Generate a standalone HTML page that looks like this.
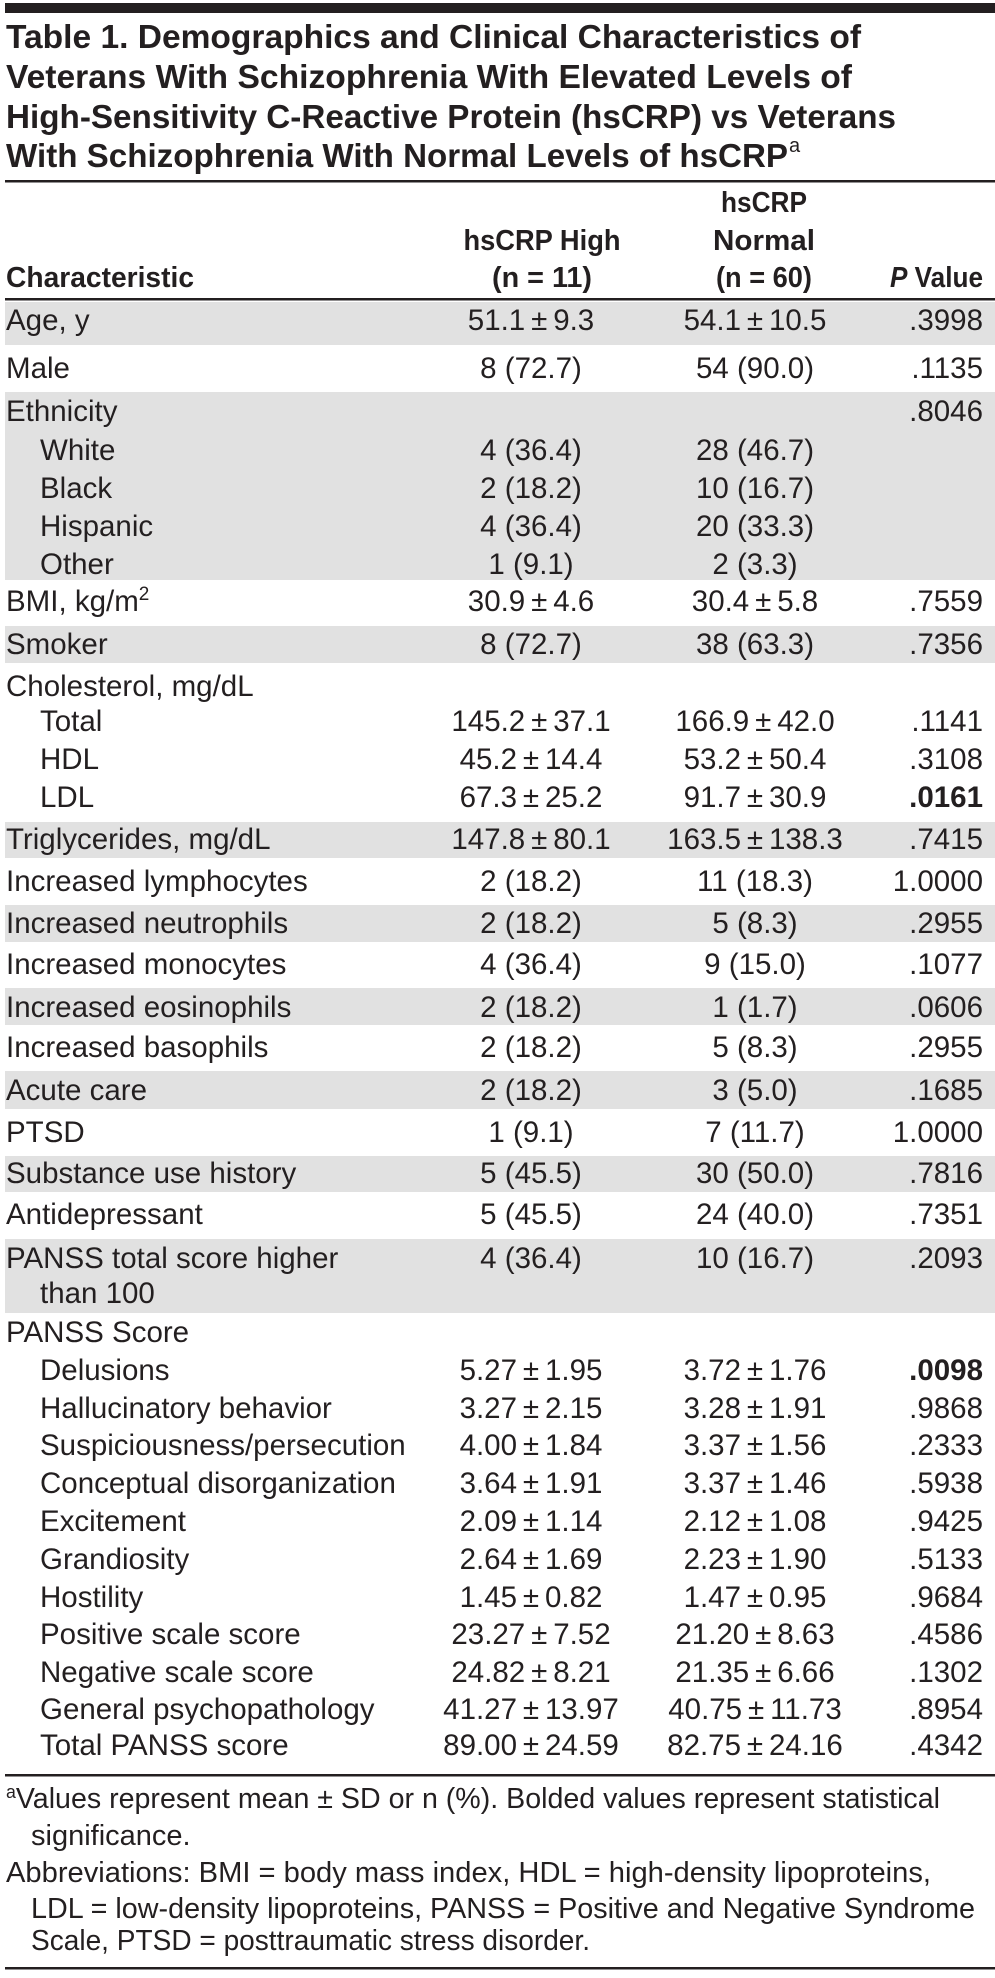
<!DOCTYPE html>
<html><head><meta charset="utf-8">
<style>
html,body{margin:0;padding:0;background:#fff;}
svg{display:block;}
text{font-family:"Liberation Sans",sans-serif;fill:#231f20;}
</style></head>
<body>
<svg id="tbl" width="995" height="1978" viewBox="0 0 995 1978" xmlns="http://www.w3.org/2000/svg">
  <rect x="5" y="3" width="990" height="10" fill="#231f20"/>
  <g font-weight="bold" font-size="33">
    <text x="6" y="48" textLength="855" lengthAdjust="spacingAndGlyphs">Table 1. Demographics and Clinical Characteristics of</text>
    <text x="6" y="88" textLength="846" lengthAdjust="spacingAndGlyphs">Veterans With Schizophrenia With Elevated Levels of</text>
    <text x="6" y="128" textLength="890" lengthAdjust="spacingAndGlyphs">High-Sensitivity C-Reactive Protein (hsCRP) vs Veterans</text>
    <text x="6" y="167" textLength="782" lengthAdjust="spacingAndGlyphs">With Schizophrenia With Normal Levels of hsCRP</text>
    <text x="789" y="152" font-size="20" font-weight="normal">a</text>
  </g>
  <rect x="5" y="180" width="990" height="2.5" fill="#231f20"/>
  <g font-weight="bold" font-size="29">
    <text x="6" y="287" textLength="188" lengthAdjust="spacingAndGlyphs">Characteristic</text>
    <text x="542" y="250" text-anchor="middle" textLength="157" lengthAdjust="spacingAndGlyphs">hsCRP High</text>
    <text x="542" y="287" text-anchor="middle" textLength="100" lengthAdjust="spacingAndGlyphs">(n = 11)</text>
    <text x="764" y="212" text-anchor="middle" textLength="86" lengthAdjust="spacingAndGlyphs">hsCRP</text>
    <text x="764" y="250" text-anchor="middle" textLength="102" lengthAdjust="spacingAndGlyphs">Normal</text>
    <text x="764" y="287" text-anchor="middle" textLength="96" lengthAdjust="spacingAndGlyphs">(n = 60)</text>
    <text x="983" y="287" text-anchor="end" textLength="93" lengthAdjust="spacingAndGlyphs"><tspan font-style="italic">P</tspan> Value</text>
  </g>
  <rect x="5" y="298" width="990" height="2.5" fill="#231f20"/>
  <g id="bands"></g>
  <g id="rows"></g>
  <rect x="5" y="1774" width="990" height="2.5" fill="#231f20"/>
  <g font-size="29">
    <text x="6" y="1808" textLength="934" lengthAdjust="spacingAndGlyphs"><tspan font-size="18" dy="-10">a</tspan><tspan dy="10">Values represent mean ± SD or n (%). Bolded values represent statistical</tspan></text>
    <text x="31" y="1845">significance.</text>
    <text x="6" y="1882" textLength="925" lengthAdjust="spacingAndGlyphs">Abbreviations: BMI = body mass index, HDL = high-density lipoproteins,</text>
    <text x="31" y="1918" textLength="944" lengthAdjust="spacingAndGlyphs">LDL = low-density lipoproteins, PANSS = Positive and Negative Syndrome</text>
    <text x="31" y="1950" textLength="559" lengthAdjust="spacingAndGlyphs">Scale, PTSD = posttraumatic stress disorder.</text>
  </g>
  <rect x="5" y="1967" width="990" height="2.5" fill="#231f20"/>
</svg>
<script>
const labels = ["Age, y","Male","Ethnicity","White","Black","Hispanic","Other","BMI, kg/m","Smoker","Cholesterol, mg/dL","Total","HDL","LDL","Triglycerides, mg/dL","Increased lymphocytes","Increased neutrophils","Increased monocytes","Increased eosinophils","Increased basophils","Acute care","PTSD","Substance use history","Antidepressant","PANSS total score higher","than 100","PANSS Score","Delusions","Hallucinatory behavior","Suspiciousness/persecution","Conceptual disorganization","Excitement","Grandiosity","Hostility","Positive scale score","Negative scale score","General psychopathology","Total PANSS score"];
const indents = [0,0,0,1,1,1,1,0,0,0,1,1,1,0,0,0,0,0,0,0,0,0,0,0,1,0,1,1,1,1,1,1,1,1,1,1,1];
const highVals = ["51.1 ± 9.3","8 (72.7)","","4 (36.4)","2 (18.2)","4 (36.4)","1 (9.1)","30.9 ± 4.6","8 (72.7)","","145.2 ± 37.1","45.2 ± 14.4","67.3 ± 25.2","147.8 ± 80.1","2 (18.2)","2 (18.2)","4 (36.4)","2 (18.2)","2 (18.2)","2 (18.2)","1 (9.1)","5 (45.5)","5 (45.5)","4 (36.4)","","","5.27 ± 1.95","3.27 ± 2.15","4.00 ± 1.84","3.64 ± 1.91","2.09 ± 1.14","2.64 ± 1.69","1.45 ± 0.82","23.27 ± 7.52","24.82 ± 8.21","41.27 ± 13.97","89.00 ± 24.59"];
const normalVals = ["54.1 ± 10.5","54 (90.0)","","28 (46.7)","10 (16.7)","20 (33.3)","2 (3.3)","30.4 ± 5.8","38 (63.3)","","166.9 ± 42.0","53.2 ± 50.4","91.7 ± 30.9","163.5 ± 138.3","11 (18.3)","5 (8.3)","9 (15.0)","1 (1.7)","5 (8.3)","3 (5.0)","7 (11.7)","30 (50.0)","24 (40.0)","10 (16.7)","","","3.72 ± 1.76","3.28 ± 1.91","3.37 ± 1.56","3.37 ± 1.46","2.12 ± 1.08","2.23 ± 1.90","1.47 ± 0.95","21.20 ± 8.63","21.35 ± 6.66","40.75 ± 11.73","82.75 ± 24.16"];
const pVals = [".3998",".1135",".8046","","","","",".7559",".7356","",".1141",".3108",".0161",".7415","1.0000",".2955",".1077",".0606",".2955",".1685","1.0000",".7816",".7351",".2093","","",".0098",".9868",".2333",".5938",".9425",".5133",".9684",".4586",".1302",".8954",".4342"];
const boldP = [".0161",".0098"];
// layout (pixel positions, not data)
const baselines = [330,378,421,460,498,536,574,611,654,696,731,769,807,849,891,933,974,1017,1057,1100,1142,1183,1224,1268,1303,1342,1380,1418,1455,1493,1531,1569,1607,1644,1682,1719,1755];
const bandTops = [302,392,626,822,905,988,1071,1156,1239];
const bandBottoms = [345,580,663,858,942,1025,1109,1192,1313];
const NS = "http://www.w3.org/2000/svg";
const bands = document.getElementById('bands');
bandTops.forEach((t,i)=>{
  const r = document.createElementNS(NS,'rect');
  
  
  r.setAttribute('x',5); r.setAttribute('y',t);
  r.setAttribute('width',990); r.setAttribute('height',bandBottoms[i]-t);
  r.setAttribute('fill','#e1e1e1');
  bands.appendChild(r);
});
const rowsG = document.getElementById('rows');
function fmt(s){ return s.replace(/ ± /g,'\u2009±\u2009'); }
function txt(x,y,s,anchor,bold){
  const t = document.createElementNS(NS,'text');
  t.setAttribute('x',x); t.setAttribute('y',y);
  t.setAttribute('font-size','29.5');
  if(anchor) t.setAttribute('text-anchor',anchor);
  if(bold) t.setAttribute('font-weight','bold');
  t.textContent = s;
  return t;
}
labels.forEach((lab,i)=>{
  const g = document.createElementNS(NS,'g');
  
  
  const y = baselines[i];
  const l = txt(indents[i]?40:6, y, lab);
  
  
  if(lab==="BMI, kg/m"){
    const sup = document.createElementNS(NS,'tspan');
    sup.setAttribute('font-size','19'); sup.setAttribute('dy','-11');
    sup.textContent='2';
    l.appendChild(sup);
  }
  g.appendChild(l);
  if(highVals[i]){
    const a = txt(531,y,fmt(highVals[i]),'middle');
    
    
    g.appendChild(a);
  }
  if(normalVals[i]){
    const b = txt(755,y,fmt(normalVals[i]),'middle');
    
    
    g.appendChild(b);
  }
  if(pVals[i]){
    const p = txt(983,y,pVals[i],'end',boldP.includes(pVals[i]));
    
    
    g.appendChild(p);
  }
  rowsG.appendChild(g);
});
</script>
</body></html>
